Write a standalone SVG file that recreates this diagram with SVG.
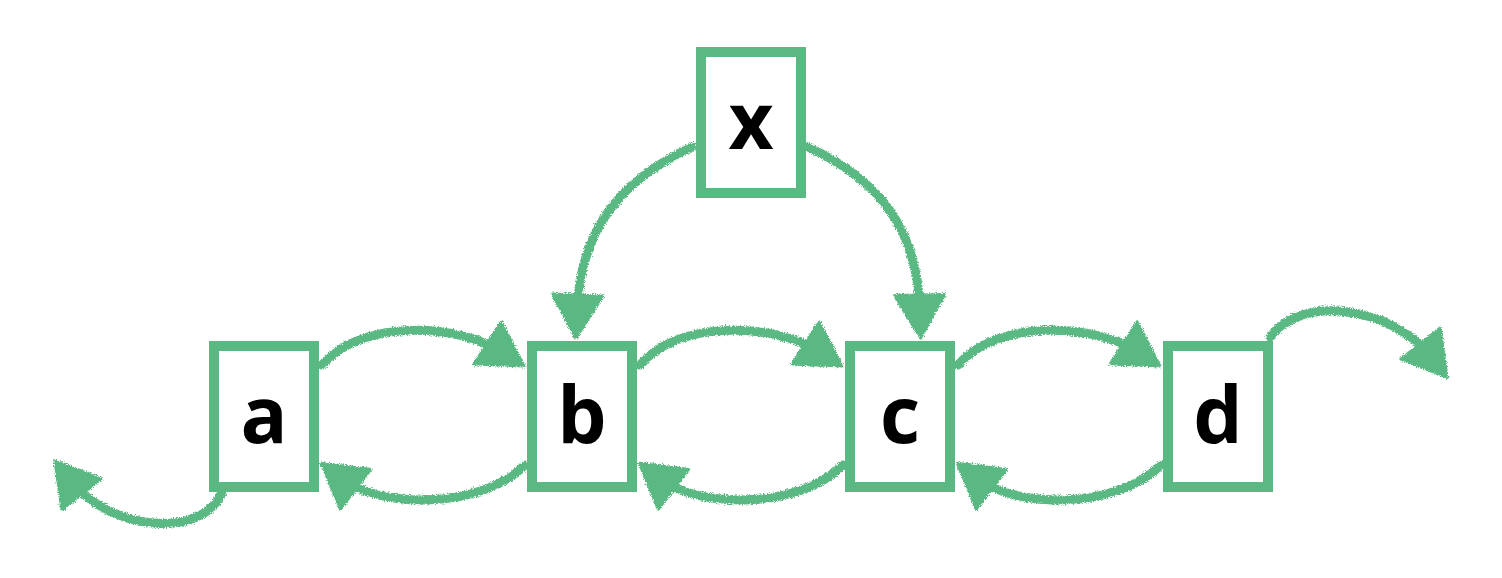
<svg xmlns="http://www.w3.org/2000/svg" width="1502" height="578" viewBox="0 0 1502 578">
<style>
.box{fill:#fff;stroke:#5ab882;stroke-width:10}
.lbl{font-family:"Open Sans","Noto Sans",sans-serif;font-weight:700;font-size:78px;fill:#000;text-anchor:middle}
.edge{fill:none;stroke:#5ab882;stroke-width:9;stroke-linecap:round;marker-end:url(#ah)}
</style>
<defs>
<marker id="ah" markerUnits="userSpaceOnUse" markerWidth="60" markerHeight="60" refX="25" refY="25" orient="auto" overflow="visible">
<path d="M8,0 L51,25 L8,50 Z" fill="#5ab882" stroke="#5ab882" stroke-width="3" stroke-linejoin="round"/>
</marker>
<filter id="rough" x="-10%" y="-10%" width="120%" height="120%">
<feTurbulence type="fractalNoise" baseFrequency="0.9" numOctaves="2" seed="3" result="n"/>
<feDisplacementMap in="SourceGraphic" in2="n" scale="5" xChannelSelector="R" yChannelSelector="G"/>
</filter>
</defs>
<g id="connectors" filter="url(#rough)">
<path class="edge" d="M322,365 C360,320 455,322 502,352"/>
<path class="edge" d="M640,365 C678,320 773,322 820,352"/>
<path class="edge" d="M958,365 C996,320 1091,322 1138,352"/>
<path class="edge" d="M525,465 C480,510 380,508 342,479"/>
<path class="edge" d="M843,465 C798,510 698,508 660,479"/>
<path class="edge" d="M1161,465 C1116,510 1016,508 978,479"/>
<path class="edge" d="M1270,337 C1300,295 1390,305 1431,357"/>
<path class="edge" d="M222,493 C200,540 110,530 71,481"/>
<path class="edge" d="M692,147 C620,180 580,230 577,312"/>
<path class="edge" d="M808,147 C880,180 918,230 920,312"/>
</g>
<g id="node-x"><rect class="box" x="701" y="52" width="100" height="141"/><text class="lbl" x="751" y="149">x</text></g>
<g id="node-a"><rect class="box" x="214" y="346" width="100" height="141"/><text class="lbl" x="264" y="443">a</text></g>
<g id="node-b"><rect class="box" x="532" y="346" width="100" height="141"/><text class="lbl" x="582" y="443">b</text></g>
<g id="node-c"><rect class="box" x="850" y="346" width="100" height="141"/><text class="lbl" x="900" y="443">c</text></g>
<g id="node-d"><rect class="box" x="1168" y="346" width="100" height="141"/><text class="lbl" x="1218" y="443">d</text></g>
</svg>
